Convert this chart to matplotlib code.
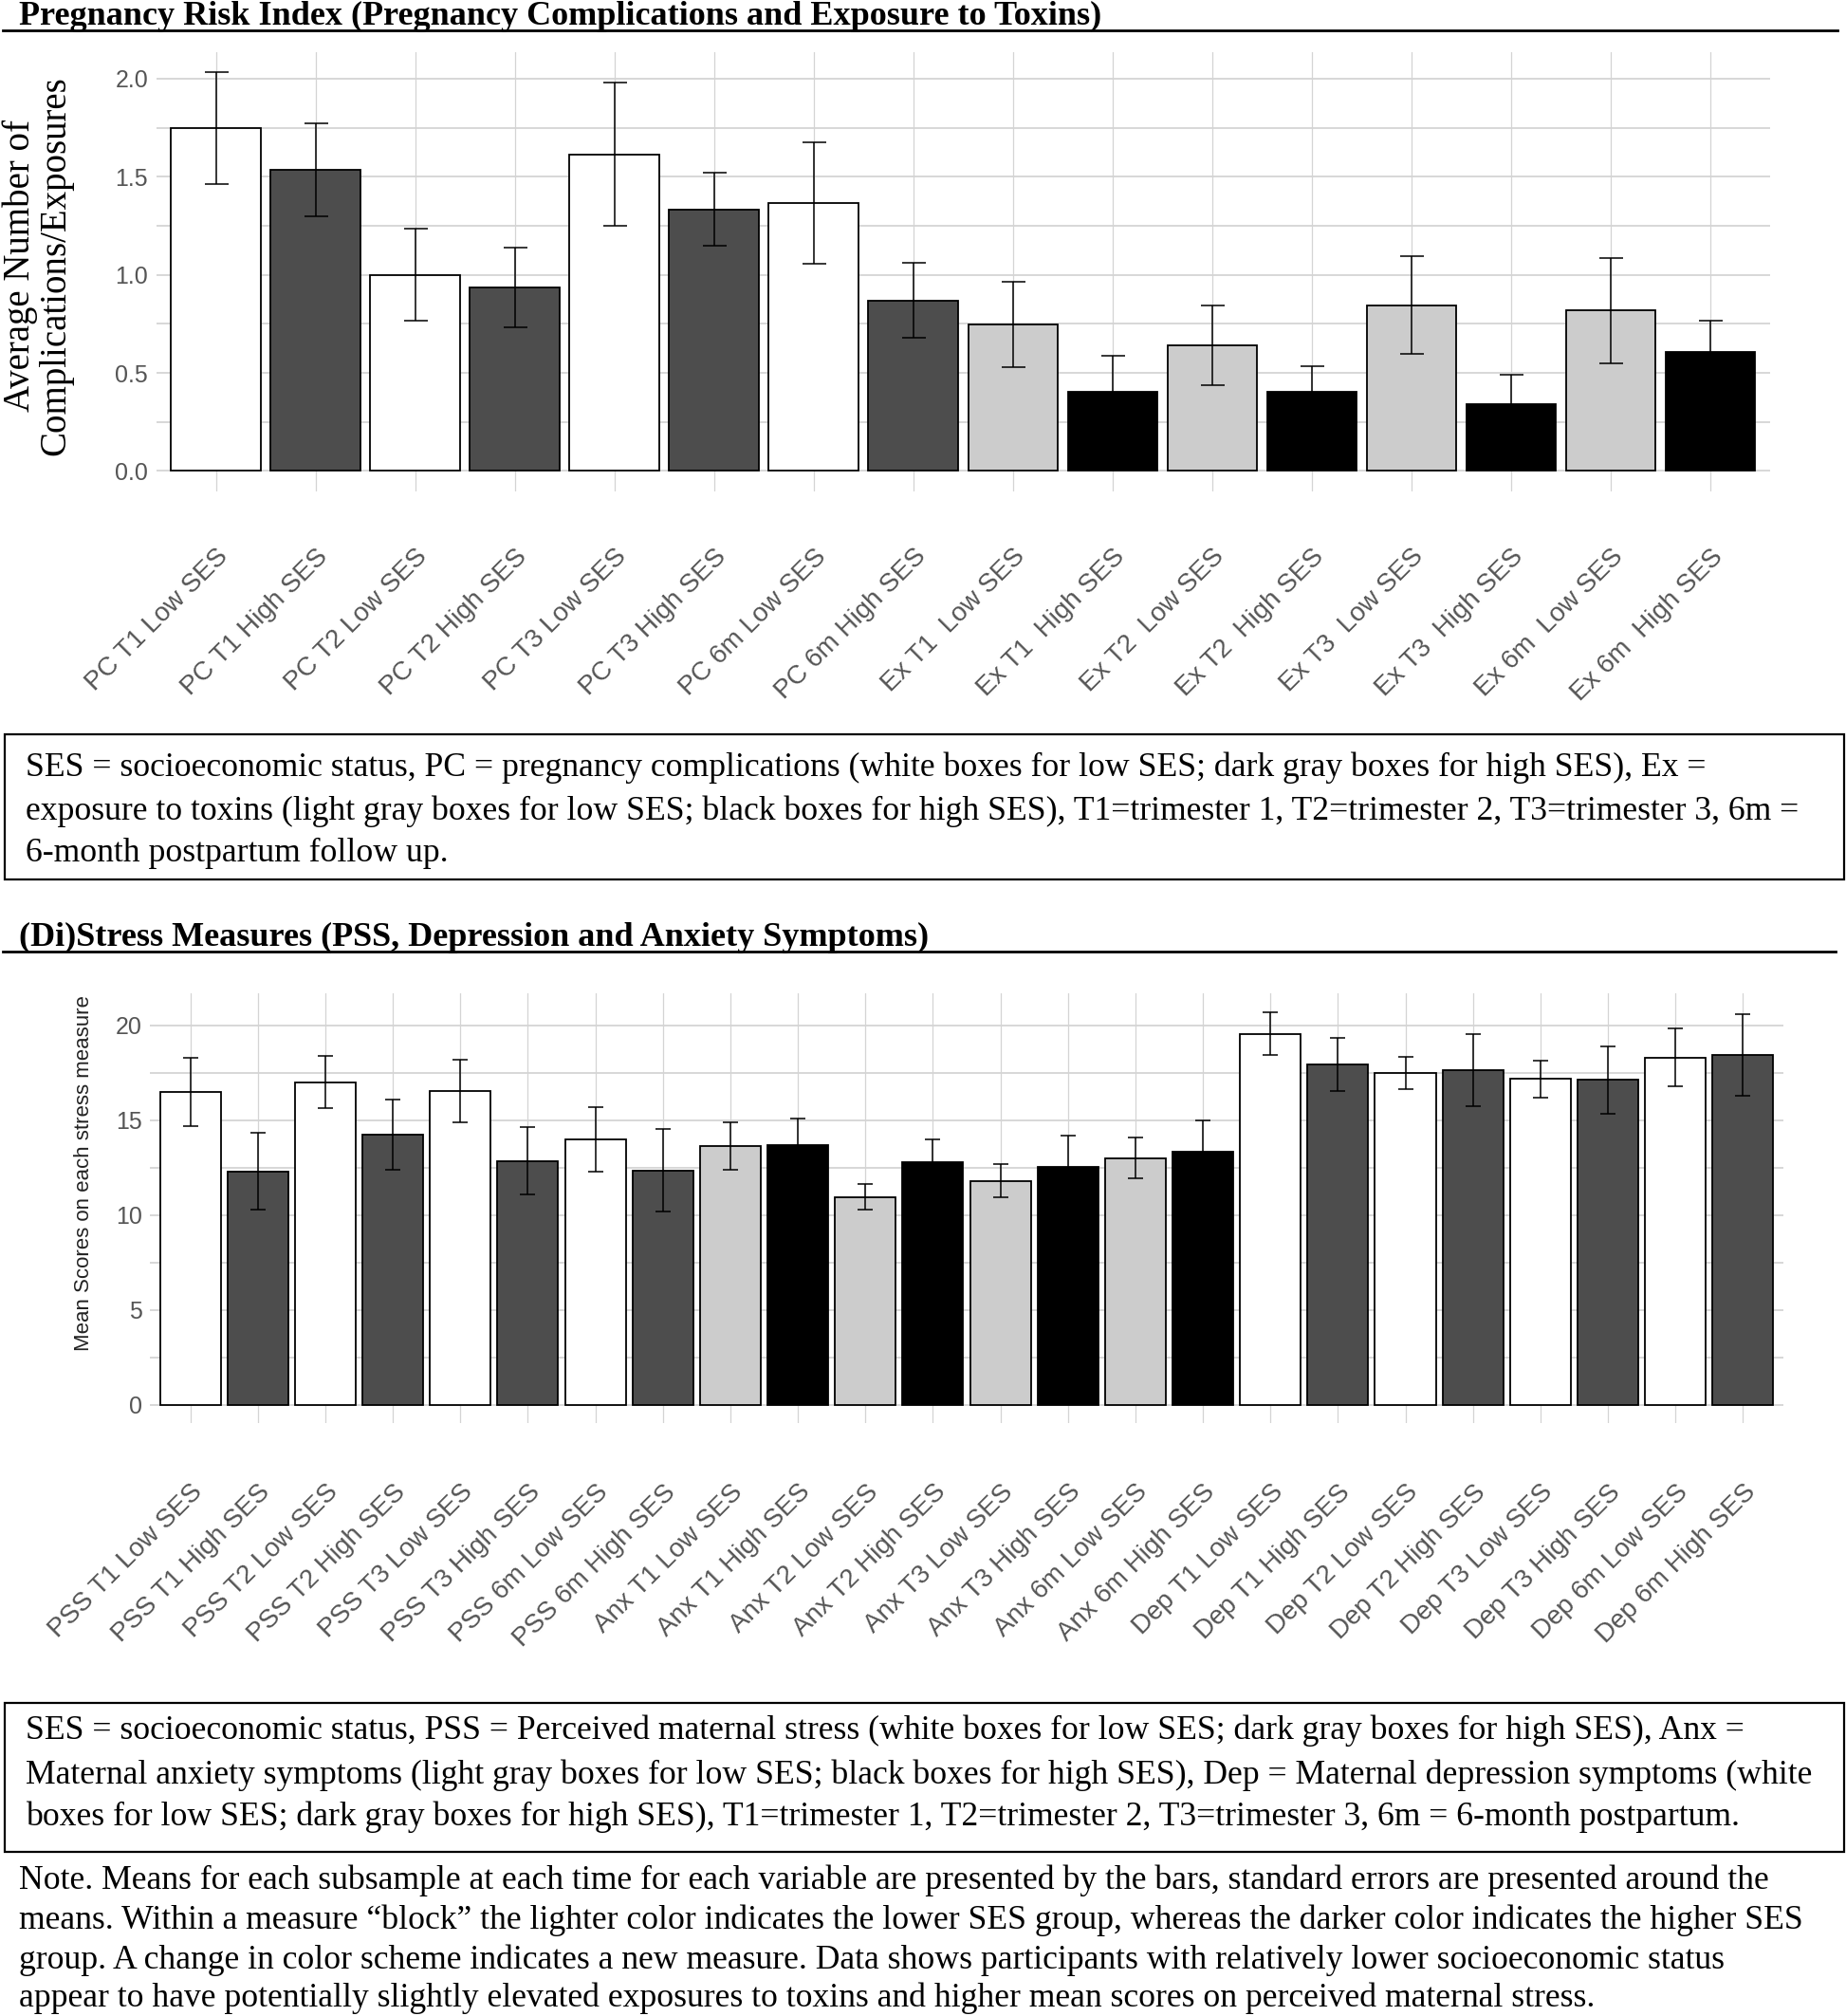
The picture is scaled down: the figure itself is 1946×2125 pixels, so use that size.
import matplotlib
matplotlib.use("Agg")
import matplotlib.pyplot as plt
from matplotlib.lines import Line2D
from matplotlib.patches import Rectangle
import numpy as np

# ---- data ----
risk_labels = ["PC T1 Low SES", "PC T1 High SES", "PC T2 Low SES", "PC T2 High SES",
               "PC T3 Low SES", "PC T3 High SES", "PC 6m Low SES", "PC 6m High SES",
               "Ex T1  Low SES", "Ex T1  High SES", "Ex T2  Low SES", "Ex T2  High SES",
               "Ex T3  Low SES", "Ex T3  High SES", "Ex 6m  Low SES", "Ex 6m  High SES"]
risk_means = [1.75, 1.535, 1.0, 0.935, 1.615, 1.333, 1.367, 0.87,
              0.748, 0.403, 0.641, 0.403, 0.844, 0.34, 0.818, 0.608]
risk_se = [0.285, 0.237, 0.234, 0.204, 0.365, 0.186, 0.31, 0.192,
           0.218, 0.184, 0.201, 0.131, 0.249, 0.151, 0.267, 0.157]

stress_labels = ["PSS T1 Low SES", "PSS T1 High SES", "PSS T2 Low SES", "PSS T2 High SES",
                 "PSS T3 Low SES", "PSS T3 High SES", "PSS 6m Low SES", "PSS 6m High SES",
                 "Anx T1 Low SES", "Anx T1 High SES", "Anx T2 Low SES", "Anx T2 High SES",
                 "Anx T3 Low SES", "Anx T3 High SES", "Anx 6m Low SES", "Anx 6m High SES",
                 "Dep T1 Low SES", "Dep T1 High SES", "Dep T2 Low SES", "Dep T2 High SES",
                 "Dep T3 Low SES", "Dep T3 High SES", "Dep 6m Low SES", "Dep 6m High SES"]
stress_means = [16.48, 12.3, 17.0, 14.24, 16.53, 12.85, 14.0, 12.34,
                13.64, 13.69, 10.95, 12.78, 11.8, 12.51, 12.99, 13.33,
                19.55, 17.95, 17.49, 17.63, 17.17, 17.12, 18.29, 18.43]
stress_se = [1.78, 2.03, 1.36, 1.86, 1.63, 1.77, 1.70, 2.17,
             1.26, 1.4, 0.68, 1.2, 0.88, 1.65, 1.07, 1.64,
             1.11, 1.4, 0.85, 1.91, 0.97, 1.77, 1.53, 2.16]

WHITE, DARK, LIGHT, BLACK = "white", "#4d4d4d", "#cccccc", "black"
risk_fill = [WHITE, DARK] * 4 + [LIGHT, BLACK] * 4
stress_fill = [WHITE, DARK] * 4 + [LIGHT, BLACK] * 4 + [WHITE, DARK] * 4

caption1 = ["SES = socioeconomic status, PC = pregnancy complications (white boxes for low SES; dark gray boxes for high SES), Ex =",
            "exposure to toxins (light gray boxes for low SES; black boxes for high SES), T1=trimester 1, T2=trimester 2, T3=trimester 3, 6m =",
            "6-month postpartum follow up."]
caption2 = ["SES = socioeconomic status, PSS = Perceived maternal stress (white boxes for low SES; dark gray boxes for high SES), Anx =",
            "Maternal anxiety symptoms (light gray boxes for low SES; black boxes for high SES), Dep = Maternal depression symptoms (white",
            "boxes for low SES; dark gray boxes for high SES), T1=trimester 1, T2=trimester 2, T3=trimester 3, 6m = 6-month postpartum."]
note = ["Note. Means for each subsample at each time for each variable are presented by the bars, standard errors are presented around the",
        "means. Within a measure \u201cblock\u201d the lighter color indicates the lower SES group, whereas the darker color indicates the higher SES",
        "group. A change in color scheme indicates a new measure. Data shows participants with relatively lower socioeconomic status",
        "appear to have potentially slightly elevated exposures to toxins and higher mean scores on perceived maternal stress."]

W, H = 1946, 2125
fig = plt.figure(figsize=(W / 100, H / 100), dpi=100)
SERIF = "Liberation Serif"
SANS = "Liberation Sans"
GRID = "#d4d4d4"
TXT = 25.7


def fx(x):
    return x / W


def fy(y):
    return 1 - y / H


def panel(rect, labels, means, se, fills, ylim, major, minor, fmt, capsize, pad):
    left, top, right, bottom = rect
    ax = fig.add_axes([fx(left), fy(bottom), (right - left) / W, (bottom - top) / H])
    n = len(labels)
    x = np.arange(1, n + 1)
    ax.bar(x, means, width=0.9, color=fills, edgecolor="black", linewidth=1.3, zorder=2)
    ax.errorbar(x, means, yerr=se, fmt="none", ecolor="black", elinewidth=1.1,
                capsize=capsize, capthick=1.1, zorder=3)
    ax.set_xlim(0.4, n + 0.6)
    ax.set_ylim(*ylim)
    ax.set_yticks(major)
    ax.set_yticks(minor, minor=True)
    ax.set_yticklabels([fmt.format(v) for v in major])
    ax.set_xticks(x)
    ax.set_xticklabels(labels, rotation=45, ha="right", va="top", rotation_mode="anchor")
    ax.grid(axis="y", which="both", color=GRID, linewidth=1.3)
    ax.grid(axis="x", which="major", color=GRID, linewidth=0.9)
    ax.set_axisbelow(True)
    for s in ax.spines.values():
        s.set_visible(False)
    ax.tick_params(which="both", length=0)
    ax.tick_params(axis="y", labelsize=18, labelcolor="#555555", pad=6)
    ax.tick_params(axis="x", labelsize=20, labelcolor="#555555", pad=pad)
    for t in ax.get_yticklabels() + ax.get_xticklabels():
        t.set_fontfamily(SANS)
    return ax


panel((164.5, 55, 1866, 518), risk_labels, risk_means, risk_se, risk_fill,
      (-0.104, 2.135), [0, 0.5, 1.0, 1.5, 2.0], [0.25, 0.75, 1.25, 1.75], "{:.1f}", 9, 40)
panel((158, 1047, 1880, 1500), stress_labels, stress_means, stress_se, stress_fill,
      (-0.97, 21.68), [0, 5, 10, 15, 20], [2.5, 7.5, 12.5, 17.5], "{:d}", 6, 43)

# y axis titles
fig.text(fx(40), fy(280), "Average Number of\nComplications/Exposures", family=SERIF,
         fontsize=28, rotation=90, ha="center", va="center", linespacing=1.0,
         multialignment="center")
fig.text(fx(89), fy(1237), "Mean Scores on each stress measure", family=SANS,
         fontsize=16, rotation=90, ha="center", va="center", color="#222222")

# section titles with rules
fig.text(fx(20), fy(26), "Pregnancy Risk Index (Pregnancy Complications and Exposure to Toxins)",
         family=SERIF, weight="bold", fontsize=26, va="baseline")
fig.add_artist(Line2D([fx(3), fx(1937)], [fy(32), fy(32)], color="black", lw=2))
fig.text(fx(20), fy(997), "(Di)Stress Measures (PSS, Depression and Anxiety Symptoms)",
         family=SERIF, weight="bold", fontsize=26, va="baseline")
fig.add_artist(Line2D([fx(3), fx(1935)], [fy(1003), fy(1003)], color="black", lw=2))

# caption boxes
fig.add_artist(Rectangle((fx(5), fy(927)), (1944 - 5) / W, (927 - 774) / H,
                         fill=False, edgecolor="black", lw=1.6))
for line, yb in zip(caption1, [818, 864, 908]):
    fig.text(fx(27), fy(yb), line, family=SERIF, fontsize=TXT, va="baseline")

fig.add_artist(Rectangle((fx(5), fy(1952)), (1944 - 5) / W, (1952 - 1795) / H,
                         fill=False, edgecolor="black", lw=1.6))
for line, yb in zip(caption2, [1833, 1880, 1924]):
    fig.text(fx(27), fy(yb), line, family=SERIF, fontsize=TXT, va="baseline")

for line, yb in zip(note, [1991, 2033, 2075, 2115]):
    fig.text(fx(20), fy(yb), line, family=SERIF, fontsize=TXT, va="baseline")

fig.savefig("out.png", dpi=100, facecolor="white")
